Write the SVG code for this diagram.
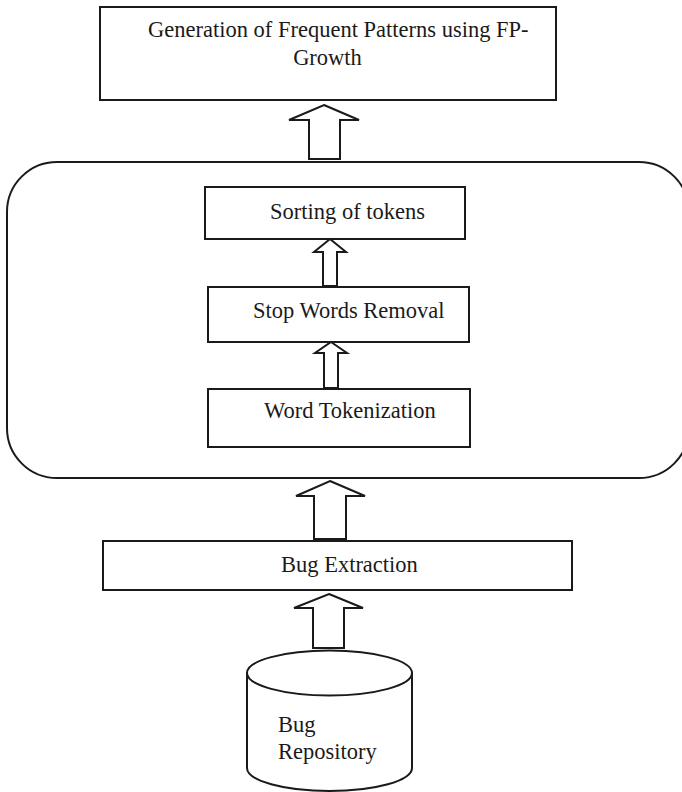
<svg xmlns="http://www.w3.org/2000/svg" width="682" height="792" viewBox="0 0 682 792">
  <style>
    .box { fill: #ffffff; stroke: #1a1a1a; stroke-width: 2; }
    .arrow { fill: #ffffff; stroke: #1a1a1a; stroke-width: 2; stroke-linejoin: miter; }
    .label { font-family: "Liberation Serif", "Times New Roman", serif; font-size: 22.5px; fill: #1a1a1a; }
  </style>
  <rect x="0" y="0" width="682" height="792" fill="#ffffff"/>

  <!-- preprocessing container -->
  <g id="preprocessing">
    <rect class="box" x="7" y="162" width="682" height="316" rx="50" ry="50"/>
  </g>

  <g id="fp-growth">
    <rect class="box" x="100" y="7" width="456" height="93"/>
    <text class="label" x="148" y="37">Generation of Frequent Patterns using FP-</text>
    <text class="label" x="327.5" y="65" text-anchor="middle">Growth</text>
  </g>

  <g id="sorting">
    <rect class="box" x="205" y="187" width="260" height="52"/>
    <text class="label" x="270" y="219">Sorting of tokens</text>
  </g>

  <g id="stopwords">
    <rect class="box" x="208" y="287" width="261" height="55"/>
    <text class="label" x="253" y="318">Stop Words Removal</text>
  </g>

  <g id="tokenization">
    <rect class="box" x="208" y="389" width="262" height="58"/>
    <text class="label" x="264" y="418">Word Tokenization</text>
  </g>

  <g id="extraction">
    <rect class="box" x="103" y="541" width="469" height="49"/>
    <text class="label" x="281" y="572">Bug Extraction</text>
  </g>

  <g id="repository">
    <path class="box" d="M247,673 L247,768 A82.5,23 0 0 0 412,768 L412,673"/>
    <ellipse class="box" cx="329.5" cy="673" rx="82.5" ry="22.5"/>
    <text class="label" x="278" y="732">Bug</text>
    <text class="label" x="278" y="759">Repository</text>
  </g>

  <!-- block arrows between stages -->
  <g id="connectors">
    <polygon class="arrow" points="324,105 359,120 340,120 340,159 309,159 309,120 289,120"/>
    <polygon class="arrow" points="330,239 346,252 337,252 337,286 323,286 323,252 314,252"/>
    <polygon class="arrow" points="331,342 347,353 338,353 338,388 324,388 324,353 315,353"/>
    <polygon class="arrow" points="330,481 365,496 346,496 346,539 314,539 314,496 296,496"/>
    <polygon class="arrow" points="329,594 363,608 344,608 344,648 313,648 313,608 294,608"/>
  </g>
</svg>
